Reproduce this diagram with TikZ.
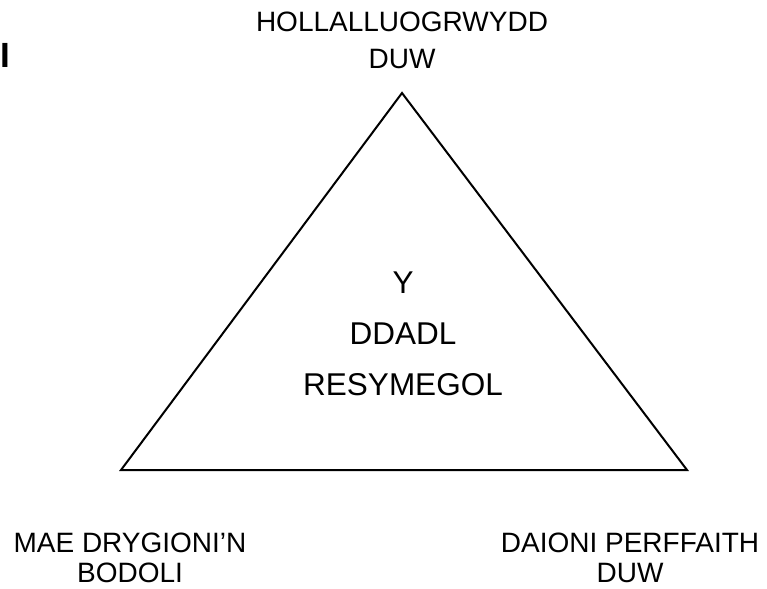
\documentclass[tikz,border=0pt]{standalone}
\usepackage{fontspec}
\setmainfont{Liberation Sans}
\begin{document}
\begin{tikzpicture}[x=1pt,y=-1pt,
  lbl/.style={inner sep=0pt, anchor=base, font=\fontsize{28}{34}\selectfont},
  ctr/.style={inner sep=0pt, anchor=base, font=\fontsize{31.5}{38}\selectfont},
  tri/.style={draw=black, line width=2pt, line join=miter}]
\useasboundingbox[fill=white] (0,0) rectangle (767,588);
\coordinate (A) at (402,93);
\coordinate (B) at (121,470);
\coordinate (C) at (687,470);
\draw[tri] (A) -- (B) -- (C) -- cycle;
\node[lbl] (t1) at (402,32) {HOLLALLUOGRWYDD};
\node[lbl] (t2) at (402,69) {DUW};
\node[ctr] (c1) at (403,293) {Y};
\node[ctr] (c2) at (403,344) {DDADL};
\node[ctr] (c3) at (403,395) {RESYMEGOL};
\node[lbl] (l1) at (130,552) {MAE DRYGIONI’N};
\node[lbl] (l2) at (130,582) {BODOLI};
\node[lbl] (r1) at (630,552) {DAIONI PERFFAITH};
\node[lbl] (r2) at (630,582) {DUW};
\node[inner sep=0pt, anchor=base west, font=\fontsize{35}{40}\selectfont\bfseries] (I) at (0.5,68) {I};
\end{tikzpicture}
\end{document}
